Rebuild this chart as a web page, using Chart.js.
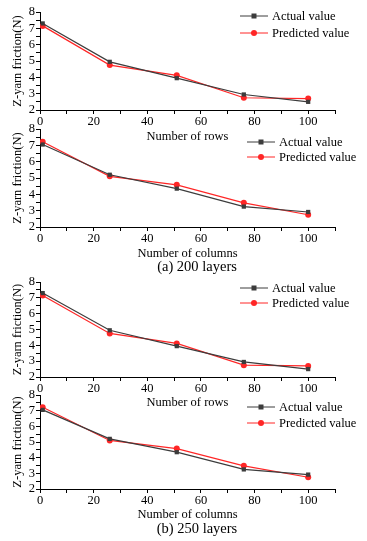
<!DOCTYPE html>
<html>
<head>
<meta charset="utf-8">
<script src="https://cdn.jsdelivr.net/npm/chart.js@4"></script>
<style>
  html, body { margin: 0; padding: 0; background: #fff; overflow: hidden; }
  body { width: 367px; height: 541px; position: relative; }
  canvas { position: absolute; left: 0; }
  .caption {
    position: absolute;
    transform: translateX(-50%);
    font-family: "Liberation Serif", serif;
    font-size: 14.5px;
    line-height: 17px;
    white-space: nowrap;
    color: #000;
  }
</style>
</head>
<body>
<canvas id="rows200" width="367" height="148" style="top:0px"></canvas>
<canvas id="cols200" width="367" height="148" style="top:117px"></canvas>
<div class="caption" style="left:197px; top:258px">(a) 200 layers</div>
<canvas id="rows250" width="367" height="144" style="top:270px"></canvas>
<canvas id="cols250" width="367" height="143" style="top:383px"></canvas>
<div class="caption" style="left:197px; top:520px">(b) 250 layers</div>
<script>
const xValues = [1, 26, 51, 76, 100];

const rowsActual200 = [7.3, 4.95, 3.95, 2.95, 2.5];
const rowsPredicted200 = [7.15, 4.75, 4.12, 2.75, 2.7];
const colsActual200 = [7.05, 5.2, 4.35, 3.25, 2.92];
const colsPredicted200 = [7.22, 5.1, 4.58, 3.48, 2.75];

const rowsActual250 = [7.3, 4.95, 3.95, 2.95, 2.5];
const rowsPredicted250 = [7.15, 4.75, 4.12, 2.75, 2.7];
const colsActual250 = [7.05, 5.2, 4.35, 3.25, 2.92];
const colsPredicted250 = [7.22, 5.1, 4.58, 3.48, 2.75];

const xTickLabels = [0, 20, 40, 60, 80, 100];
const yTickLabels = [2, 3, 4, 5, 6, 7, 8];
const seriesNames = ["Actual value", "Predicted value"];

const FONT = "'Liberation Serif', 'Times New Roman', serif";
const GRAY = "#3c3c3c";
const RED = "#ff2626";

// legend drawn inside the plot area, top right
const legendBox = {
  id: "legendBox",
  afterDatasetsDraw(chart, args, opts) {
    const ctx = chart.ctx;
    const area = chart.chartArea;
    ctx.save();
    ctx.font = "12.5px " + FONT;
    ctx.textBaseline = "middle";
    chart.data.datasets.forEach(function (ds, i) {
      const x0 = area.left + opts.left;
      const y = area.top + opts.top + i * opts.gap;
      ctx.strokeStyle = ds.borderColor;
      ctx.lineWidth = 1;
      ctx.beginPath();
      ctx.moveTo(x0, y);
      ctx.lineTo(x0 + 28, y);
      ctx.stroke();
      ctx.fillStyle = ds.backgroundColor;
      if (ds.pointStyle === "rect") {
        ctx.fillRect(x0 + 14 - 2.5, y - 2.5, 5, 5);
      } else {
        ctx.beginPath();
        ctx.arc(x0 + 14, y, 3, 0, Math.PI * 2);
        ctx.fill();
      }
      ctx.fillStyle = "#000";
      ctx.fillText(ds.label, x0 + 32, y + 1);
    });
    ctx.restore();
  }
};

function makePanel(id, xTitle, actual, predicted, plotHeight, legendPos) {
  const canvas = document.getElementById(id);
  const xAxisHeight = canvas.height - 12 - plotHeight;
  new Chart(canvas.getContext("2d"), {
    type: "line",
    data: {
      datasets: [{
        label: seriesNames[0],
        data: xValues.map((x, i) => ({ x: x, y: actual[i] })),
        borderColor: GRAY,
        backgroundColor: GRAY,
        borderWidth: 1.2,
        pointStyle: "rect",
        pointRadius: 3,
        pointBorderWidth: 0,
        tension: 0
      }, {
        label: seriesNames[1],
        data: xValues.map((x, i) => ({ x: x, y: predicted[i] })),
        borderColor: RED,
        backgroundColor: RED,
        borderWidth: 1.2,
        pointStyle: "circle",
        pointRadius: 3,
        pointBorderWidth: 0,
        tension: 0
      }]
    },
    options: {
      responsive: false,
      animation: false,
      layout: { padding: { left: 6, top: 12, right: 32, bottom: 0 } },
      plugins: {
        legend: { display: false },
        tooltip: { enabled: false },
        legendBox: legendPos
      },
      scales: {
        x: {
          type: "linear",
          min: 0,
          max: 110,
          afterFit: function (scale) { scale.height = xAxisHeight; },
          border: { color: "#000", width: 1 },
          grid: { drawOnChartArea: false, drawTicks: true, tickLength: 4, tickColor: "#000" },
          ticks: {
            stepSize: 10,
            autoSkip: false,
            maxRotation: 0,
            padding: 0,
            color: "#000",
            font: { family: FONT, size: 12.5 },
            callback: v => xTickLabels.includes(v) ? String(v) : ""
          },
          title: {
            display: true,
            text: xTitle,
            color: "#000",
            padding: { top: 0, bottom: 4 },
            font: { family: FONT, size: 12.5 }
          }
        },
        y: {
          min: 2,
          max: 8,
          afterFit: function (scale) { scale.width = 34; },
          border: { color: "#000", width: 1 },
          grid: { drawOnChartArea: false, drawTicks: true, tickLength: 4, tickColor: "#000" },
          ticks: {
            stepSize: 0.5,
            autoSkip: false,
            padding: 1,
            color: "#000",
            font: { family: FONT, size: 12.5 },
            callback: v => yTickLabels.includes(v) ? String(v) : ""
          },
          title: {
            display: true,
            text: "Z-yarn friction(N)",
            color: "#000",
            padding: { top: 4, bottom: 0 },
            font: { family: FONT, size: 12.5 }
          }
        }
      }
    },
    plugins: [legendBox]
  });
}

makePanel("rows200", "Number of rows", rowsActual200, rowsPredicted200, 98, { left: 200, top: 4, gap: 17 });
makePanel("cols200", "Number of columns", colsActual200, colsPredicted200, 98, { left: 207, top: 13, gap: 15 });
makePanel("rows250", "Number of rows", rowsActual250, rowsPredicted250, 95, { left: 200, top: 6, gap: 15 });
makePanel("cols250", "Number of columns", colsActual250, colsPredicted250, 94, { left: 207, top: 12, gap: 16 });
</script>
</body>
</html>
